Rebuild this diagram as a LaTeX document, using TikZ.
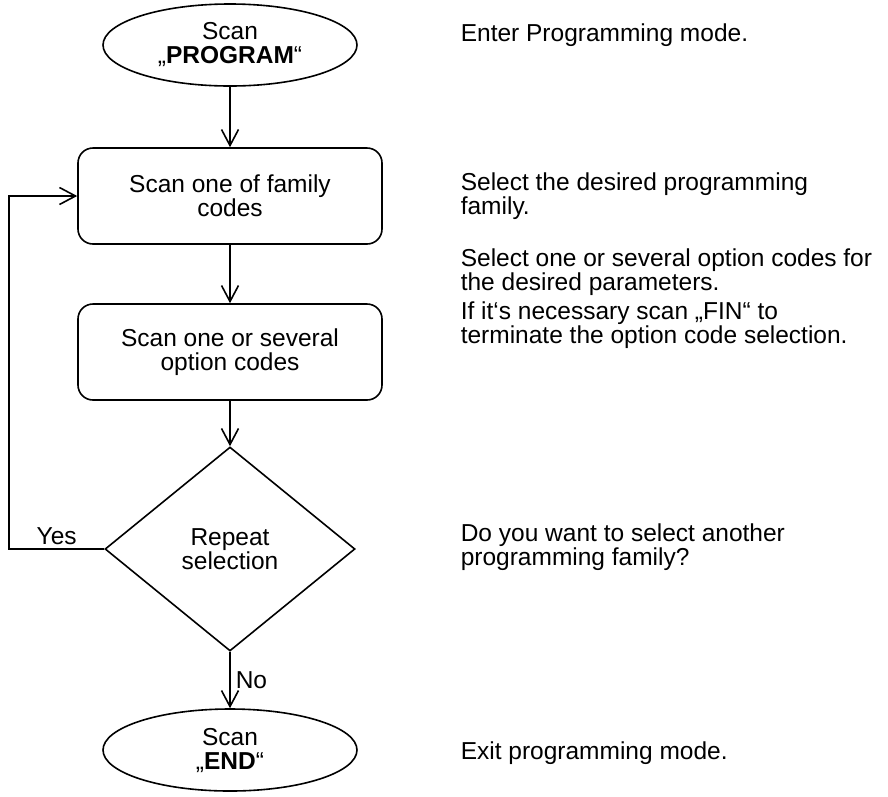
\documentclass[tikz,border=0pt]{standalone}
\usepackage{fontspec}
\setmainfont{Liberation Sans}
\usetikzlibrary{shapes.geometric,arrows.meta}

\begin{document}
\begin{tikzpicture}[x=1pt,y=-1pt,line width=1.6pt,
	every node/.style={font=\fontsize{24.5}{24}\selectfont,align=center},
	term/.style={draw,ellipse,minimum width=254pt,minimum height=82pt,inner sep=0pt},
	stepbox/.style={draw,rectangle,rounded corners=15pt,minimum width=304pt,minimum height=96pt},
	test/.style={draw,diamond,minimum width=250pt,minimum height=204pt,inner sep=0pt},
	note/.style={anchor=west,align=left,inner sep=0pt},
	flow/.style={-{Straight Barb[length=16pt,width=17pt]}}]
		\useasboundingbox (0,0) rectangle (888,796);

		\path (230,45) node[term] (p0) {Scan\\„\textbf{PROGRAM}“}
		(230,196) node[stepbox] (p1) {Scan one of family\\codes}
		(230,352) node[stepbox] (p2) {Scan one or several\\option codes}
		(230,549) node[test] (p3) {Repeat\\selection}
		(230,750) node[term] (p4) {Scan\\„\textbf{END}“};

		\path (460,35) node[note] (t0) {Enter Programming mode.}
		(460,196) node[note] (t1) {Select the desired programming\\family.}
		(460,299) node[note] (t2) {Select one or several option codes for\\the desired parameters.\\[5pt]If it‘s necessary scan „FIN“ to\\terminate the option code selection.}
		(460,547) node[note] (t3) {Do you want to select another\\programming family?}
		(460,753) node[note] (t4) {Exit programming mode.};

		\draw[flow] (p0) -- (p1);
		\draw[flow] (p1) -- (p2);
		\draw[flow] (p2) -- (p3);
		\draw[flow] (p3) -- node[right,inner sep=5pt] {No} (p4);
		\draw[flow] (p3.west) -- node[above] {Yes} ++(-95,0) |- (p1.west);
	\end{tikzpicture}
\end{document}
